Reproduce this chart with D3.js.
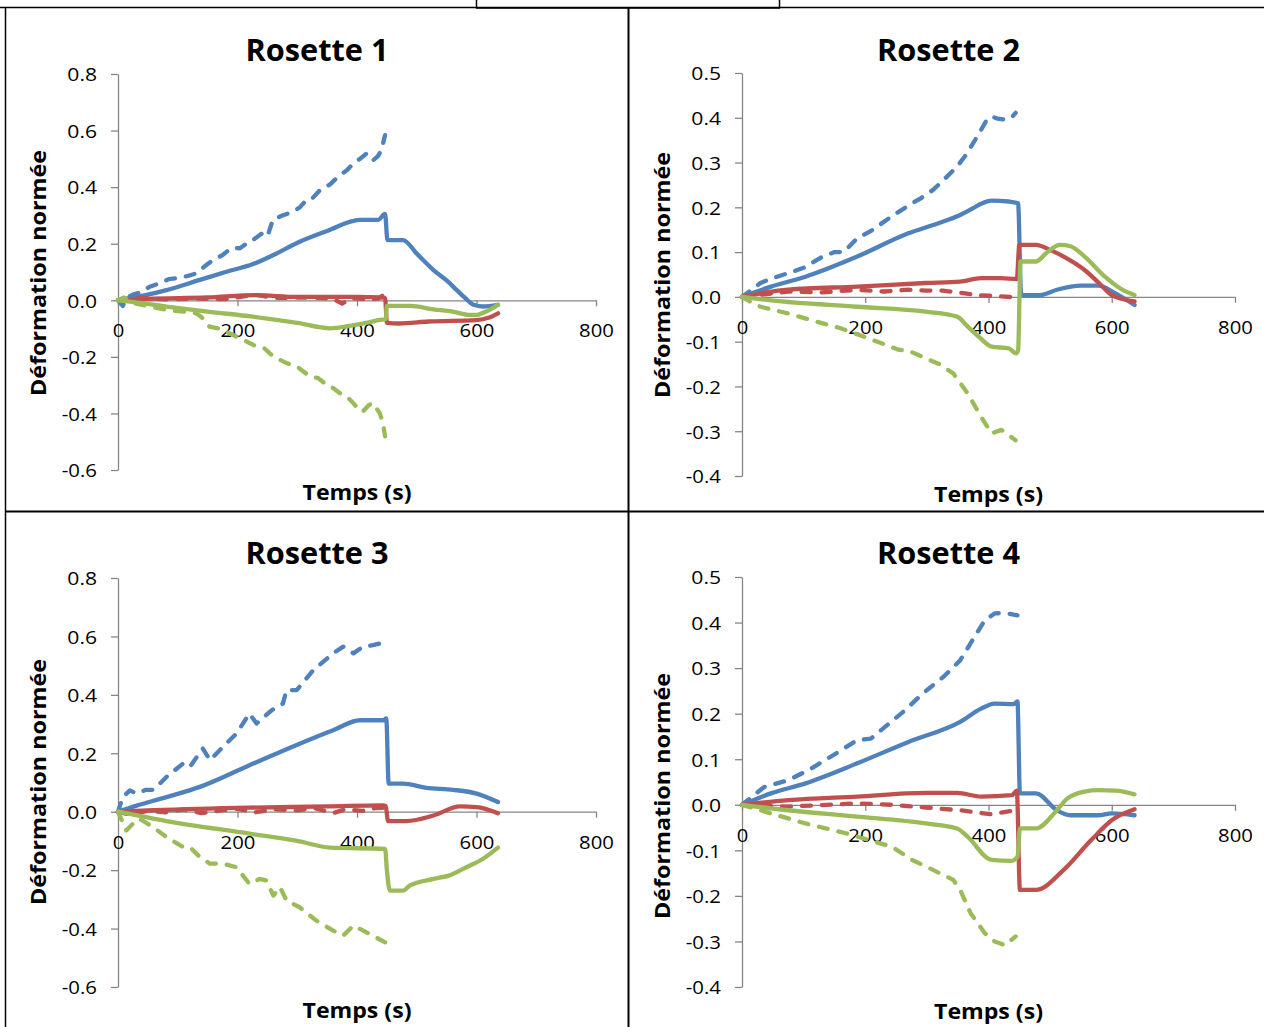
<!DOCTYPE html>
<html><head><meta charset="utf-8">
<script src="https://cdn.jsdelivr.net/npm/d3@7"></script>
<style>
html,body{margin:0;padding:0;background:#fff;}
svg{display:block;}
</style></head>
<body>
<svg id="chart" width="1264" height="1027"></svg>
<script>
// ---------- DATA ----------
const titles = ["Rosette 1", "Rosette 2", "Rosette 3", "Rosette 4"];
const yLabel = "Déformation normée";
const xLabel = "Temps (s)";
const xTicks = [0, 200, 400, 600, 800];
const yTicksA = [-0.6, -0.4, -0.2, 0.0, 0.2, 0.4, 0.6, 0.8];
const yTicksB = [-0.4, -0.3, -0.2, -0.1, 0.0, 0.1, 0.2, 0.3, 0.4, 0.5];

// Rosette 1
const r1BlueSolid = [[0,0],[20,0.008],[50,0.02],[81,0.036],[137,0.072],[180,0.1],[226,0.128],[260,0.16],[304,0.207],[350,0.245],[405,0.284],[435,0.284],[447,0.305],[451,0.213],[477,0.213],[500,0.165],[528,0.107],[550,0.07],[567,0.036],[580,0.01],[595,-0.016],[611,-0.022],[636,-0.016]];
const r1BlueDash = [[0,0],[8,-0.02],[15,0.01],[25,0.02],[40,0.03],[53,0.048],[70,0.06],[85,0.075],[98,0.078],[115,0.085],[131,0.095],[145,0.12],[159,0.142],[175,0.16],[190,0.185],[204,0.184],[215,0.2],[226,0.213],[240,0.235],[250,0.225],[259,0.284],[275,0.3],[293,0.313],[305,0.33],[315,0.354],[325,0.36],[338,0.389],[355,0.41],[371,0.442],[383,0.46],[394,0.484],[405,0.5],[416,0.519],[427,0.495],[435,0.51],[441,0.531],[447,0.584]];
const r1RedSolid = [[0,0],[50,0.005],[150,0.01],[230,0.018],[300,0.012],[400,0.012],[440,0.01],[447,0.008],[450,-0.08],[470,-0.082],[520,-0.075],[600,-0.07],[620,-0.062],[636,-0.046]];
const r1RedDash = [[0,0],[30,0.01],[80,0.003],[130,0.006],[180,0.004],[230,0.02],[260,0.008],[320,0.01],[360,0.005],[375,-0.012],[390,0.008],[420,0.003],[435,0.006],[447,0.022]];
const r1GreenSolid = [[0,0],[40,-0.01],[81,-0.022],[150,-0.04],[226,-0.058],[300,-0.08],[355,-0.099],[390,-0.09],[420,-0.078],[438,-0.069],[448,-0.067],[450,-0.02],[470,-0.02],[489,-0.02],[528,-0.032],[560,-0.04],[589,-0.052],[600,-0.052],[611,-0.044],[625,-0.03],[636,-0.016]];
const r1GreenDash = [[0,0],[10,0.01],[25,-0.01],[50,-0.02],[81,-0.034],[110,-0.04],[131,-0.046],[140,-0.06],[153,-0.093],[170,-0.1],[192,-0.122],[210,-0.14],[232,-0.164],[245,-0.17],[260,-0.199],[282,-0.222],[300,-0.235],[321,-0.269],[335,-0.275],[349,-0.299],[360,-0.31],[371,-0.328],[385,-0.345],[394,-0.364],[404,-0.39],[410,-0.393],[420,-0.37],[427,-0.364],[438,-0.399],[443,-0.43],[447,-0.481]];

// Rosette 2
const r2BlueSolid = [[0,0],[47,0.023],[103,0.045],[187,0.09],[270,0.142],[320,0.165],[354,0.183],[375,0.198],[388,0.208],[405,0.215],[433,0.213],[448,0.209],[453,0.004],[483,0.004],[511,0.016],[550,0.025],[578,0.025],[606,0.008],[637,-0.018]];
const r2BlueDash = [[0,0],[15,0.015],[30,0.031],[50,0.042],[75,0.053],[100,0.065],[131,0.09],[150,0.1],[165,0.1],[187,0.131],[210,0.148],[243,0.18],[260,0.195],[276,0.209],[290,0.22],[310,0.239],[330,0.265],[349,0.291],[365,0.32],[388,0.373],[397,0.395],[405,0.403],[415,0.398],[427,0.396],[437,0.4],[444,0.411]];
const r2RedSolid = [[0,0],[40,0.01],[75,0.016],[187,0.023],[298,0.031],[354,0.034],[388,0.042],[420,0.042],[446,0.04],[450,0.116],[477,0.116],[500,0.105],[522,0.09],[556,0.06],[580,0.03],[600,0.004],[637,-0.01]];
const r2RedDash = [[0,0],[75,0.012],[130,0.01],[187,0.016],[230,0.012],[270,0.016],[300,0.014],[326,0.014],[350,0.01],[382,0.004],[410,0.002],[444,-0.001]];
const r2GreenSolid = [[0,0],[47,-0.008],[187,-0.022],[298,-0.033],[349,-0.044],[366,-0.066],[385,-0.09],[405,-0.111],[433,-0.115],[445,-0.126],[448,-0.12],[452,0.079],[477,0.079],[494,0.098],[516,0.116],[533,0.113],[556,0.09],[589,0.045],[617,0.016],[637,0.004]];
const r2GreenDash = [[0,0],[15,-0.012],[30,-0.022],[75,-0.037],[131,-0.059],[160,-0.07],[198,-0.089],[254,-0.118],[270,-0.12],[298,-0.137],[320,-0.15],[343,-0.171],[366,-0.215],[388,-0.268],[405,-0.305],[421,-0.297],[444,-0.32]];

// Rosette 3
const r3BlueSolid = [[0,0],[30,0.02],[81,0.05],[137,0.085],[220,0.159],[304,0.233],[360,0.279],[405,0.313],[444,0.313],[449,0.319],[453,0.096],[477,0.096],[516,0.082],[561,0.075],[600,0.062],[636,0.033]];
const r3BlueDash = [[0,0],[8,0.05],[20,0.073],[31,0.062],[47,0.075],[60,0.075],[81,0.119],[109,0.165],[120,0.153],[142,0.216],[154,0.176],[181,0.233],[198,0.267],[220,0.336],[232,0.302],[257,0.347],[276,0.37],[282,0.416],[299,0.416],[327,0.485],[360,0.542],[377,0.565],[394,0.542],[410,0.565],[427,0.57],[438,0.576],[447,0.605]];
const r3RedSolid = [[0,0],[60,0.005],[220,0.014],[350,0.018],[444,0.022],[448,0.02],[452,-0.032],[483,-0.032],[528,-0.013],[572,0.018],[600,0.016],[636,-0.005]];
const r3RedDash = [[0,0],[20,-0.01],[50,0.003],[80,-0.002],[110,0.008],[140,-0.005],[170,0.004],[200,0.01],[230,-0.002],[260,0.008],[300,0.005],[330,0.012],[360,-0.005],[380,0.008],[410,0.003],[430,0.012],[447,0.014]];
const r3GreenSolid = [[0,0],[81,-0.032],[220,-0.075],[300,-0.1],[355,-0.123],[447,-0.127],[450,-0.2],[455,-0.27],[477,-0.27],[488,-0.253],[528,-0.23],[555,-0.218],[583,-0.19],[611,-0.161],[636,-0.123]];
const r3GreenDash = [[0,0],[14,-0.064],[25,-0.041],[36,-0.024],[59,-0.053],[81,-0.087],[109,-0.121],[120,-0.121],[137,-0.155],[154,-0.178],[176,-0.178],[198,-0.19],[220,-0.247],[237,-0.23],[248,-0.235],[260,-0.287],[271,-0.258],[282,-0.304],[304,-0.327],[332,-0.373],[360,-0.407],[377,-0.424],[394,-0.39],[416,-0.413],[447,-0.447]];

// Rosette 4
const r4BlueSolid = [[0,0],[47,0.025],[103,0.047],[187,0.091],[270,0.138],[354,0.182],[388,0.211],[410,0.222],[441,0.221],[447,0.227],[451,0.025],[477,0.025],[511,-0.012],[533,-0.023],[578,-0.023],[600,-0.019],[637,-0.023]];
const r4BlueDash = [[0,0],[36,0.039],[75,0.054],[108,0.076],[153,0.113],[187,0.142],[209,0.145],[232,0.171],[265,0.208],[293,0.244],[327,0.281],[354,0.317],[377,0.368],[394,0.405],[410,0.42],[427,0.421],[447,0.416]];
const r4RedSolid = [[0,0],[75,0.01],[187,0.018],[298,0.026],[349,0.026],[388,0.018],[438,0.021],[446,0.031],[451,-0.187],[477,-0.187],[522,-0.143],[567,-0.077],[600,-0.034],[637,-0.01]];
const r4RedDash = [[0,0],[75,-0.004],[187,0.003],[243,0],[298,-0.006],[354,-0.012],[405,-0.021],[444,-0.012]];
const r4GreenSolid = [[0,0],[75,-0.012],[187,-0.026],[298,-0.041],[349,-0.052],[366,-0.07],[405,-0.121],[438,-0.123],[447,-0.114],[451,-0.052],[477,-0.052],[511,-0.012],[528,0.014],[556,0.029],[578,0.032],[606,0.031],[637,0.023]];
const r4GreenDash = [[0,0],[47,-0.019],[103,-0.041],[170,-0.063],[215,-0.081],[243,-0.092],[276,-0.121],[310,-0.143],[343,-0.165],[354,-0.187],[371,-0.238],[394,-0.282],[410,-0.3],[427,-0.308],[444,-0.289]];

// ---------- STYLE / LAYOUT ----------
const colors = {blue:"#4F81BD", red:"#C0504D", green:"#9BBB59"};
const font = "'Open Sans', 'Noto Sans', sans-serif";
const axisColor = "#868686";

function seriesOf(bs, bd, rs, rd, gs, gd){
  return [
    {d:bs, c:colors.blue, dash:false},
    {d:bd, c:colors.blue, dash:true},
    {d:rs, c:colors.red, dash:false},
    {d:rd, c:colors.red, dash:true},
    {d:gs, c:colors.green, dash:false},
    {d:gd, c:colors.green, dash:true}
  ];
}

const panels = [
  {title:titles[0], x0:118, x1:596, yTop:74, yBot:470, yDom:[-0.6,0.8], yTicks:yTicksA, ylabX:46, ylabY:273, xlabY:500, titleY:61,
   series:seriesOf(r1BlueSolid,r1BlueDash,r1RedSolid,r1RedDash,r1GreenSolid,r1GreenDash)},
  {title:titles[1], x0:742, x1:1235, yTop:73, yBot:476, yDom:[-0.4,0.5], yTicks:yTicksB, ylabX:670, ylabY:275, xlabY:502, titleY:61,
   series:seriesOf(r2BlueSolid,r2BlueDash,r2RedSolid,r2RedDash,r2GreenSolid,r2GreenDash)},
  {title:titles[2], x0:118, x1:596, yTop:578, yBot:987, yDom:[-0.6,0.8], yTicks:yTicksA, ylabX:46, ylabY:782, xlabY:1018, titleY:564,
   series:seriesOf(r3BlueSolid,r3BlueDash,r3RedSolid,r3RedDash,r3GreenSolid,r3GreenDash)},
  {title:titles[3], x0:742, x1:1235, yTop:577, yBot:987, yDom:[-0.4,0.5], yTicks:yTicksB, ylabX:670, ylabY:796, xlabY:1019, titleY:564,
   series:seriesOf(r4BlueSolid,r4BlueDash,r4RedSolid,r4RedDash,r4GreenSolid,r4GreenDash)}
];

const svg = d3.select("#chart");

// ---------- BORDERS (table cells) ----------
const borders = svg.append("g").attr("fill","none");
borders.append("rect").attr("x",476.5).attr("y",-5).attr("width",303).attr("height",13)
  .attr("stroke","#000").attr("stroke-width",1.5);
borders.append("line").attr("x1",0).attr("x2",1264).attr("y1",7.5).attr("y2",7.5).attr("stroke","#000").attr("stroke-width",1.5);
borders.append("line").attr("x1",5.5).attr("x2",5.5).attr("y1",7).attr("y2",1027).attr("stroke","#000").attr("stroke-width",1.5);
borders.append("line").attr("x1",628.5).attr("x2",628.5).attr("y1",7).attr("y2",1027).attr("stroke","#000").attr("stroke-width",2);
borders.append("line").attr("x1",5).attr("x2",1264).attr("y1",511.5).attr("y2",511.5).attr("stroke","#000").attr("stroke-width",2);

// tick label widths to emulate the wide rendering of the original
function labelWidth(s){
  let w = 0;
  for (const ch of s){ w += ch === "." ? 6.5 : ch === "-" ? 5.5 : 11.6; }
  return w;
}
const fmtY = d => d.toFixed(1);

panels.forEach(p => {
  const g = svg.append("g");
  const x = d3.scaleLinear().domain([0,800]).range([p.x0, p.x1]);
  const y = d3.scaleLinear().domain(p.yDom).range([p.yBot, p.yTop]);

  // y axis
  const ya = g.append("g").attr("transform",`translate(${p.x0},0)`)
    .call(d3.axisLeft(y).tickValues(p.yTicks).tickSize(7).tickSizeOuter(0).tickFormat(fmtY).tickPadding(14));
  ya.select(".domain").attr("stroke",axisColor).attr("stroke-width",1.3);
  ya.selectAll(".tick line").attr("stroke",axisColor).attr("stroke-width",1.3);
  ya.selectAll(".tick text").attr("font-family",font).attr("font-size",19).attr("fill","#000")
    .attr("dy","0.36em")
    .attr("textLength", d => labelWidth(fmtY(d))).attr("lengthAdjust","spacingAndGlyphs");

  // x axis on zero line
  const xa = g.append("g").attr("transform",`translate(0,${y(0)})`)
    .call(d3.axisBottom(x).tickValues(xTicks).tickSize(6).tickSizeOuter(0).tickFormat(d3.format("d")));
  xa.select(".domain").attr("stroke",axisColor).attr("stroke-width",1.3);
  xa.selectAll(".tick line").attr("stroke",axisColor).attr("stroke-width",1.3);
  xa.selectAll(".tick text").attr("font-family",font).attr("font-size",19).attr("fill","#000")
    .attr("y",30).attr("dy","0.36em")
    .attr("textLength", d => labelWidth(String(d))).attr("lengthAdjust","spacingAndGlyphs");

  // lines
  const lineStraight = d3.line().x(d => x(d[0])).y(d => y(d[1])).curve(d3.curveLinear);
  const lineSmooth = d3.line().x(d => x(d[0])).y(d => y(d[1])).curve(d3.curveMonotoneX);
  g.append("g").selectAll("path").data(p.series).join("path")
    .attr("d", s => s.dash ? lineStraight(s.d) : lineSmooth(s.d))
    .attr("fill","none")
    .attr("stroke", s => s.c)
    .attr("stroke-width",4.3)
    .attr("stroke-linejoin","round")
    .attr("stroke-linecap","round")
    .attr("stroke-dasharray", s => s.dash ? "9,11" : null);

  // title
  g.append("text").attr("x",(p.x0+p.x1)/2 - 40).attr("y",p.titleY)
    .attr("text-anchor","middle").attr("font-family",font).attr("font-weight",700)
    .attr("font-size",30).attr("fill","#000")
    .attr("textLength",143).attr("lengthAdjust","spacingAndGlyphs")
    .text(p.title);

  // x label
  g.append("text").attr("x",(p.x0+p.x1)/2).attr("y",p.xlabY)
    .attr("text-anchor","middle").attr("font-family",font).attr("font-weight",700)
    .attr("font-size",22).attr("fill","#000")
    .attr("textLength",109).attr("lengthAdjust","spacingAndGlyphs")
    .text(xLabel);

  // y label
  g.append("text").attr("transform",`translate(${p.ylabX},${p.ylabY}) rotate(-90)`)
    .attr("text-anchor","middle").attr("font-family",font).attr("font-weight",700)
    .attr("font-size",22).attr("fill","#000")
    .attr("textLength",246).attr("lengthAdjust","spacingAndGlyphs")
    .text(yLabel);
});
</script>
</body></html>
